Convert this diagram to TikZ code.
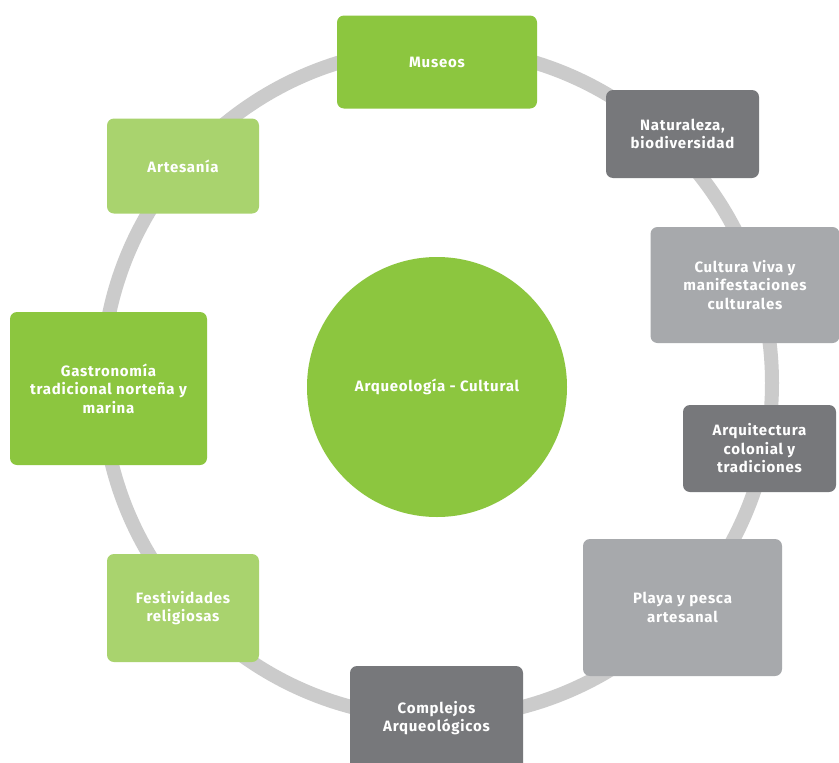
\documentclass[tikz,border=0pt]{standalone}
\usepackage{fontspec}
\setmainfont[LetterSpace=5]{Fira Sans}
\definecolor{gbright}{HTML}{8CC63F}
\definecolor{glight}{HTML}{A9D36E}
\definecolor{gydark}{HTML}{77787B}
\definecolor{gylight}{HTML}{A7A9AC}
\definecolor{ringc}{HTML}{CBCBCB}
\tikzset{
  box/.style={rounded corners=7pt, inner sep=2pt, align=center, text=white,
    font=\bfseries\fontsize{15}{18.5}\selectfont},
  bbright/.style={box, fill=gbright},
  blight/.style={box, fill=glight},
  bdark/.style={box, fill=gydark},
  bgray/.style={box, fill=gylight},
}
\begin{document}
\begin{tikzpicture}[x=1pt,y=-1pt]
\useasboundingbox (0,0) rectangle (839,763);
\clip (0,0) rectangle (839,763);
\fill[white] (0,0) rectangle (839,763);
\draw[ringc, line width=14pt] (437,383) circle[radius=335];
\node[circle, fill=gbright, minimum size=260pt, inner sep=0pt, text=white,
  font=\bfseries\fontsize{15}{18.5}\selectfont] (core) at (437,387) {Arqueología - Cultural};
\node[bbright, minimum width=200pt, minimum height=93pt] (museos) at (437,62) {Museos};
\node[bdark, minimum width=153pt, minimum height=88pt] (natur) at (682.5,134) {Naturaleza,\\biodiversidad};
\node[blight, minimum width=152pt, minimum height=95pt] (artes) at (183,166) {Artesanía};
\node[bgray, minimum width=189pt, minimum height=116pt] (cultura) at (745,285) {Cultura Viva y\\manifestaciones\\culturales};
\node[bbright, minimum width=197pt, minimum height=153pt] (gastro) at (108.5,388.5) {Gastronomía\\tradicional norteña y\\marina};
\node[bdark, minimum width=153pt, minimum height=87pt] (arqui) at (759.5,448.5) {Arquitectura\\colonial y\\tradiciones};
\node[bgray, minimum width=199pt, minimum height=137pt] (playa) at (682.5,607.5) {Playa y pesca\\artesanal};
\node[bdark, minimum width=173pt, minimum height=104pt] (complejos) at (436.5,718) {Complejos\\Arqueológicos};
\node[blight, minimum width=152pt, minimum height=108pt] (festi) at (183,608) {Festividades\\religiosas};
\end{tikzpicture}
\end{document}
